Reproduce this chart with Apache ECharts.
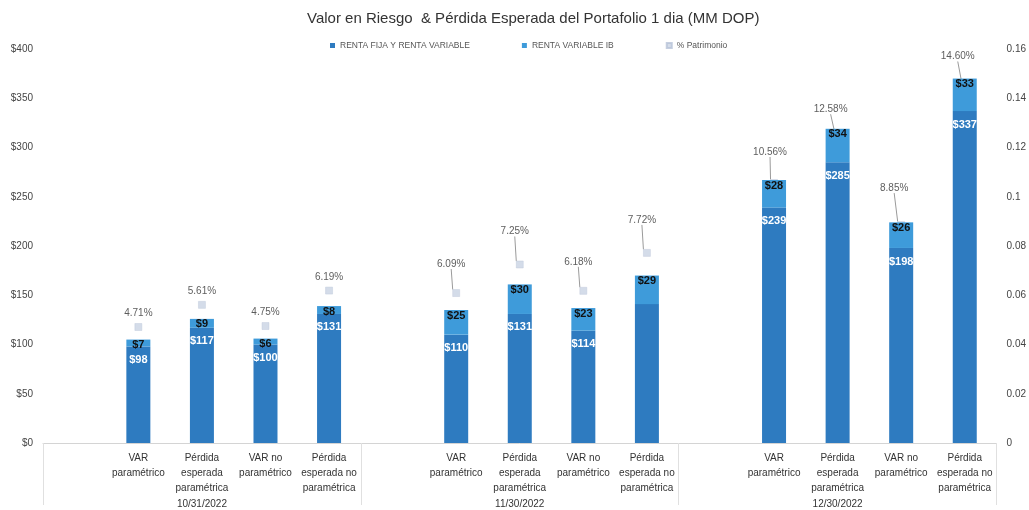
<!DOCTYPE html>
<html>
<head>
<meta charset="utf-8">
<script src="https://cdn.jsdelivr.net/npm/echarts@6/dist/echarts.min.js"></script>
<style>
html,body{margin:0;padding:0;background:#fff;}
#chart{width:1029px;height:510px;}
</style>
</head>
<body>
<div id="chart"></div>
<script>
// ---- data ----
var groupLabels = ['10/31/2022', '11/30/2022', '12/30/2022'];
var barNames = ['VAR\nparamétrico', 'Pérdida\nesperada\nparamétrica', 'VAR no\nparamétrico', 'Pérdida\nesperada no\nparamétrica'];
var rentaFijaVariable = [98, 117, 100, 131, 110, 131, 114, 141, 239, 285, 198, 337];
var rentaVariableIB = [7, 9, 6, 8, 25, 30, 23, 29, 28, 34, 26, 33];
var patrimonio = [0.0471, 0.0561, 0.0475, 0.0619, 0.0609, 0.0725, 0.0618, 0.0772, 0.1056, 0.1258, 0.0885, 0.1460];
var leftTicks = [0, 50, 100, 150, 200, 250, 300, 350, 400];
var rightTicks = [0, 0.02, 0.04, 0.06, 0.08, 0.1, 0.12, 0.14, 0.16];
var seriesNames = ['RENTA FIJA Y RENTA VARIABLE', 'RENTA VARIABLE IB', '% Patrimonio'];

// ---- build slots: one blank slot before each group of 4 ----
var categories = [], s1 = [], s2 = [], s3 = [], idxMap = [];
groupLabels.forEach(function (g, gi) {
  categories.push(''); s1.push(null); s2.push(null); s3.push(null); idxMap.push(-1);
  barNames.forEach(function (n, bi) {
    var k = gi * 4 + bi;
    categories.push(n);
    s1.push(rentaFijaVariable[k]);
    s2.push(rentaVariableIB[k]);
    s3.push(patrimonio[k]);
    idxMap.push(k);
  });
});

// label offsets for % labels (style only)
var pctDx = [0, 0, 0, 0, -5, -5, -5, -5, -4, -7, -7, -7];
var pctDy = [-14, -14, -14, -13, -29, -33, -29, -33, -31, -24, -37, -27];
var hiddenBaseLabel = { 7: true };

var dark = '#2E7BC0', light = '#3E9BDA', marker = '#C9D3E4';

var s1Data = s1.map(function (v, i) {
  if (v === null) return null;
  var k = idxMap[i];
  return hiddenBaseLabel[k] ? { value: v, label: { show: false } } : v;
});
var s3Data = s3.map(function (v, i) {
  if (v === null) return null;
  var k = idxMap[i];
  return k < 4 ? { value: v, labelLine: { show: false } } : v;
});

var chart = echarts.init(document.getElementById('chart'), null, { renderer: 'canvas' });
var font = 'Liberation Sans, Arial, sans-serif';
chart.setOption({
  animation: false,
  textStyle: { fontFamily: font },
  title: {
    text: 'Valor en Riesgo  & Pérdida Esperada del Portafolio 1 dia (MM DOP)',
    left: 302, top: 6,
    textStyle: { fontSize: 15, fontWeight: 'normal', color: '#333', fontFamily: font }
  },
  legend: {
    top: 36, left: 325,
    itemWidth: 5, itemHeight: 5, itemGap: 52,
    icon: 'rect',
    textStyle: { fontSize: 8.5, color: '#555', fontFamily: font },
    data: seriesNames
  },
  grid: { left: 43, right: 29, top: 49, bottom: 67, containLabel: false },
  xAxis: [
    {
      type: 'category', data: categories,
      axisLine: { show: true, lineStyle: { color: '#d4d4d4', width: 1 } },
      axisTick: { show: false },
      axisLabel: { interval: 0, fontSize: 10, lineHeight: 15, color: '#333', margin: 8, fontFamily: font }
    },
    {
      type: 'category', data: groupLabels, position: 'bottom',
      axisLine: { show: false },
      axisTick: { show: true, length: 62, lineStyle: { color: '#e0e0e0' } },
      axisLabel: { fontSize: 10, color: '#333', margin: 56, fontFamily: font }
    }
  ],
  yAxis: [
    {
      type: 'value', min: leftTicks[0], max: leftTicks[leftTicks.length - 1], interval: 50,
      splitLine: { show: false }, axisLine: { show: false }, axisTick: { show: false },
      axisLabel: { fontSize: 10, color: '#444', margin: 10, formatter: function (v) { return '$' + v; } }
    },
    {
      type: 'value', min: rightTicks[0], max: rightTicks[rightTicks.length - 1], interval: 0.02,
      splitLine: { show: false }, axisLine: { show: false }, axisTick: { show: false },
      axisLabel: { fontSize: 10, color: '#444', margin: 10, formatter: function (v) { return String(+v.toFixed(2)); } }
    }
  ],
  series: [
    {
      name: seriesNames[0], type: 'bar', stack: 'a', data: s1Data, barWidth: 24, z: 3,
      itemStyle: { color: dark },
      label: { show: true, position: 'insideTop', distance: 8, color: '#fff', fontWeight: 'bold', fontSize: 11,
        formatter: function (p) { return '$' + p.value; } }
    },
    {
      name: seriesNames[1], type: 'bar', stack: 'a', data: s2, barWidth: 24, z: 3,
      itemStyle: { color: light },
      label: { show: true, position: 'insideTop', distance: 0, color: '#111', fontWeight: 'bold', fontSize: 11,
        formatter: function (p) { return '$' + p.value; } }
    },
    {
      name: seriesNames[2], type: 'scatter', yAxisIndex: 1, data: s3Data, z: 1,
      symbol: 'rect', symbolSize: 7,
      itemStyle: { color: marker, borderColor: '#b8c3d8', borderWidth: 0.5 },
      label: { show: true, position: 'inside', color: '#333', fontSize: 10,
        formatter: function (p) { return (p.value * 100).toFixed(2) + '%'; } },
      labelLine: { show: true, lineStyle: { color: '#9a9a9a', width: 1 } },
      labelLayout: function (p) {
        var k = idxMap[p.dataIndex];
        if (k < 0) return {};
        return { dx: pctDx[k], dy: pctDy[k] };
      }
    }
  ]
});
</script>
</body>
</html>
